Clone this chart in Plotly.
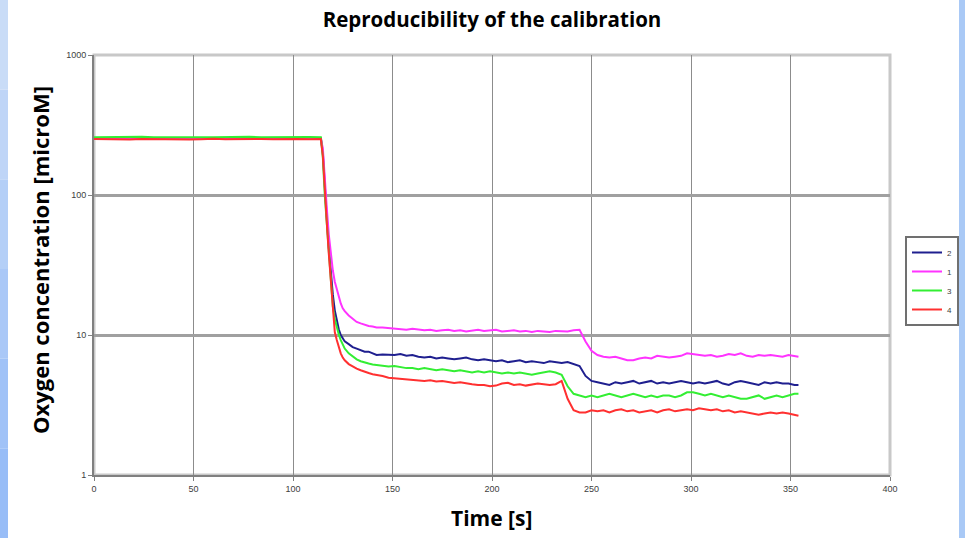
import plotly.graph_objects as go

#---
# data
#---
time_s = [
    0, 6, 12, 18, 24, 30, 36, 42, 48, 54, 60, 66, 72, 78, 84, 90, 96, 102, 108, 114,
    115, 116, 117, 118, 119, 120, 121, 122, 123, 124, 125, 126, 128, 130, 132, 134, 136, 138, 140, 142, 145, 148,
    151, 154, 157, 160, 163, 166, 169, 172, 175, 178, 181, 184, 187, 190, 193, 196, 199, 202, 205, 208,
    211, 214, 217, 220, 223, 226, 229, 232, 235, 238, 241, 244, 247, 250, 253, 256, 259, 262, 265, 268,
    271, 274, 277, 280, 283, 286, 289, 292, 295, 298, 301, 304, 307, 310, 313, 316, 319, 322, 325, 328,
    331, 334, 337, 340, 343, 346, 349, 352, 354,
]

run_2 = [
    255, 254, 256, 255, 254, 255, 256, 255, 254, 255, 256, 255, 254, 255, 256, 255, 254, 255, 256, 255,
    200, 110, 68, 42, 28, 19.5, 15, 12.5, 11, 10, 9.4, 9.0, 8.6, 8.2, 8.0, 7.8, 7.6, 7.6, 7.4, 7.2, 7.25, 7.2,
    7.2, 7.3, 7.1, 7.2, 7.0, 6.9, 7.0, 6.8, 6.9, 6.8, 6.7, 6.8, 6.9, 6.7, 6.6, 6.7, 6.6, 6.5, 6.6, 6.4,
    6.5, 6.6, 6.4, 6.5, 6.4, 6.3, 6.5, 6.4, 6.3, 6.4, 6.2, 6.0, 5.1, 4.7, 4.6, 4.5, 4.4, 4.6, 4.5, 4.6,
    4.7, 4.5, 4.6, 4.7, 4.5, 4.6, 4.5, 4.6, 4.7, 4.6, 4.5, 4.6, 4.5, 4.6, 4.7, 4.5, 4.4, 4.6, 4.7, 4.6,
    4.5, 4.4, 4.6, 4.5, 4.6, 4.5, 4.5, 4.4, 4.4,
]

run_1 = [
    253, 252, 254, 253, 252, 253, 254, 253, 252, 253, 254, 253, 252, 253, 254, 253, 252, 253, 254, 253,
    215, 125, 80, 52, 37, 29, 24, 21, 18.5, 16.8, 15.5, 14.8, 13.8, 13.0, 12.4, 12.1, 11.8, 11.6, 11.5, 11.3, 11.3, 11.2,
    11.2, 11.0, 10.9, 11.1, 10.9, 10.8, 10.9, 10.7, 10.8, 10.9, 10.7, 10.8, 10.6, 10.8, 10.9, 10.7, 10.8, 10.9, 10.6, 10.7,
    10.8, 10.6, 10.7, 10.5, 10.7, 10.6, 10.5, 10.7, 10.6, 10.6, 10.8, 10.9, 9.0, 7.7, 7.2, 7.0, 6.9, 7.0, 6.8, 6.6,
    6.6, 6.8, 6.9, 6.8, 7.1, 7.0, 6.9, 7.0, 7.1, 7.4, 7.3, 7.2, 7.1, 7.2, 7.0, 7.1, 7.3, 7.2, 7.4, 7.1,
    7.0, 7.2, 7.1, 7.2, 7.1, 7.0, 7.2, 7.1, 7.0,
]

run_3 = [
    259, 260, 258, 259, 261, 259, 258, 260, 259, 258, 259, 260, 259, 261, 258, 259, 260, 259, 260, 259,
    185, 98, 60, 37, 24, 16, 13, 11.2, 10.1, 9.2, 8.5, 8.0, 7.4, 7.0, 6.7, 6.5, 6.35, 6.25, 6.15, 6.1, 6.0, 5.95,
    6.0, 5.9, 5.8, 5.8, 5.7, 5.8, 5.7, 5.6, 5.7, 5.6, 5.5, 5.6, 5.5, 5.4, 5.5, 5.4, 5.5, 5.4, 5.3, 5.4,
    5.3, 5.4, 5.3, 5.2, 5.3, 5.4, 5.5, 5.4, 5.2, 4.3, 3.8, 3.7, 3.6, 3.7, 3.6, 3.7, 3.8, 3.7, 3.6, 3.7,
    3.8, 3.7, 3.6, 3.7, 3.6, 3.7, 3.7, 3.6, 3.7, 3.9, 3.9, 3.8, 3.7, 3.8, 3.7, 3.6, 3.7, 3.6, 3.5, 3.5,
    3.6, 3.7, 3.5, 3.6, 3.7, 3.6, 3.7, 3.8, 3.8,
]

run_4 = [
    251, 250, 252, 249, 251, 250, 252, 251, 249, 250, 252, 250, 251, 249, 251, 250, 252, 251, 250, 251,
    190, 100, 63, 38, 24, 15.5, 10.5, 9.2, 8.2, 7.4, 6.9, 6.6, 6.2, 5.95, 5.75, 5.6, 5.45, 5.35, 5.25, 5.2, 5.1, 4.95,
    4.9, 4.85, 4.8, 4.8, 4.75, 4.7, 4.75, 4.65, 4.7, 4.6, 4.55, 4.6, 4.5, 4.45, 4.4, 4.4, 4.3, 4.35, 4.5, 4.55,
    4.4, 4.45, 4.35, 4.4, 4.5, 4.45, 4.4, 4.45, 4.7, 3.5, 2.9, 2.8, 2.8, 2.9, 2.85, 2.9, 2.8, 2.9, 2.95, 2.85,
    2.9, 2.8, 2.85, 2.9, 2.8, 2.9, 2.95, 2.85, 2.9, 2.95, 2.9, 3.0, 2.95, 2.9, 2.95, 2.85, 2.9, 2.8, 2.85, 2.8,
    2.75, 2.7, 2.75, 2.8, 2.75, 2.8, 2.75, 2.7, 2.65,
]

# legend order as in the reference: 2, 1, 3, 4
series = [
    ("2", run_2, "#1f1f8f"),
    ("1", run_1, "#ff33ff"),
    ("3", run_3, "#33ee33"),
    ("4", run_4, "#ff3030"),
]

x_ticks = [0, 50, 100, 150, 200, 250, 300, 350, 400]
y_ticks = [1, 10, 100, 1000]

#---
# chart config
#---
W, H = 965, 538
M_L, M_R, M_T, M_B = 94, 75, 55, 63
PW, PH = W - M_L - M_R, H - M_T - M_B


def px_to_paper_x(px):
    return (px - M_L) / PW


def px_to_paper_y(py):
    return (H - M_B - py) / PH


def side_bands():
    # light blue window edges, faked gradient on the left
    shapes = []
    left_cols = ["#c9dcf7", "#bfd5f7", "#b4cff7", "#aac8f7", "#a0c2f7", "#98bdf7"]
    n = len(left_cols)
    for i, c in enumerate(left_cols):
        shapes.append(dict(
            type="rect", xref="paper", yref="paper", layer="below",
            x0=px_to_paper_x(0), x1=px_to_paper_x(8),
            y0=px_to_paper_y(H * (i + 1) / n), y1=px_to_paper_y(H * i / n),
            fillcolor=c, line=dict(width=0),
        ))
    shapes.append(dict(
        type="rect", xref="paper", yref="paper", layer="below",
        x0=px_to_paper_x(959), x1=px_to_paper_x(W),
        y0=px_to_paper_y(H), y1=px_to_paper_y(0),
        fillcolor="#a9c9f6", line=dict(width=0),
    ))
    # plot area frame (top / right in light grey)
    shapes.append(dict(
        type="rect", xref="paper", yref="paper", layer="below",
        x0=0, x1=1, y0=0, y1=1,
        line=dict(color="#c8c8c8", width=3),
    ))
    return shapes


def axis_titles():
    font = dict(family="Open Sans, Noto Sans", color="black")
    return [
        dict(
            text="<b>Time [s]</b>", showarrow=False,
            xref="paper", yref="paper",
            x=px_to_paper_x(491), y=px_to_paper_y(518),
            xanchor="center", yanchor="middle",
            font=dict(font, size=21),
        ),
        dict(
            text="<b>Oxygen concentration [microM]</b>", showarrow=False,
            xref="paper", yref="paper",
            x=px_to_paper_x(40), y=px_to_paper_y(260),
            xanchor="center", yanchor="middle", textangle=-90,
            font=dict(font, size=22),
        ),
    ]


#---
# Charting
#---
fig = go.Figure()

for name, vals, color in series:
    fig.add_trace(go.Scatter(
        x=time_s,
        y=vals,
        mode="lines",
        name=name,
        line=dict(color=color, width=2),
    ))

tick_font = dict(family="Liberation Sans, Arial", size=9, color="#404040")

fig.update_layout(
    width=W,
    height=H,
    margin=dict(l=M_L, r=M_R, t=M_T, b=M_B, autoexpand=False),
    paper_bgcolor="white",
    plot_bgcolor="white",
    title=dict(
        text="<b>Reproducibility of the calibration</b>",
        x=0.5, xref="paper", xanchor="center",
        y=1 - 13 / H, yref="container", yanchor="top",
        font=dict(family="Open Sans, Noto Sans", size=20.5, color="black"),
    ),
    showlegend=True,
    legend=dict(
        x=px_to_paper_x(905), y=px_to_paper_y(236),
        xanchor="left", yanchor="top",
        font=dict(family="Liberation Sans, Arial", size=8, color="#404040"),
        bgcolor="white",
        bordercolor="#707070",
        borderwidth=2,
        tracegroupgap=0,
        itemwidth=30,
    ),
    shapes=side_bands(),
    annotations=axis_titles(),
)

fig.update_xaxes(
    range=[0, 400],
    tickvals=x_ticks,
    ticks="outside", ticklen=4, tickcolor="#808080",
    tickfont=tick_font,
    showgrid=True, gridcolor="#8c8c8c", gridwidth=1,
    showline=True, linecolor="#808080", linewidth=2,
    zeroline=False,
    automargin=False,
)

fig.update_yaxes(
    type="log",
    range=[0, 3],
    tickvals=y_ticks,
    ticktext=[str(v) for v in y_ticks],
    ticks="outside", ticklen=4, tickcolor="#808080",
    tickfont=tick_font,
    showgrid=True, gridcolor="#a0a0a0", gridwidth=2.5,
    showline=True, linecolor="#808080", linewidth=2,
    zeroline=False,
    automargin=False,
)

# the page body has an 8px default margin, drop it so the figure sits at 0,0
fig.write_html(
    "out.html",
    config={"displayModeBar": False},
    post_script="document.body.style.margin='0';",
)
